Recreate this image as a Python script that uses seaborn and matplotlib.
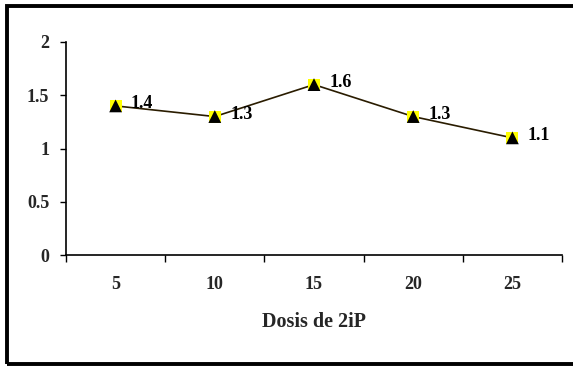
import matplotlib
matplotlib.use("Agg")
import matplotlib.pyplot as plt
import seaborn as sns
import pandas as pd
from matplotlib.patches import Rectangle

dosis = ["5", "10", "15", "20", "25"]
valores = [1.4, 1.3, 1.6, 1.3, 1.1]
yticks = [0, 0.5, 1, 1.5, 2]
ytick_labels = ["0", "0.5", "1", "1.5", "2"]

sns.set_theme(style="white")
plt.rcParams["font.family"] = ["Liberation Serif", "DejaVu Serif"]
plt.rcParams["font.weight"] = "bold"

df = pd.DataFrame({"dosis": dosis, "valor": valores})

fig = plt.figure(figsize=(5.73, 3.66), dpi=100)
ax = fig.add_axes([66 / 573, 1 - 255 / 366, (562 - 66) / 573, (255 - 42) / 366])

# connecting line
sns.lineplot(data=df, x="dosis", y="valor", ax=ax, color="#2a1c00",
             linewidth=1.2, sort=False, zorder=2)
# yellow square behind black triangle
sns.scatterplot(data=df, x="dosis", y="valor", ax=ax, marker="s", s=75,
                color="#ffff00", edgecolor="none", zorder=3)
sns.scatterplot(data=df, x="dosis", y="valor", ax=ax, marker="^", s=85,
                color="black", edgecolor="none", zorder=4)

for i, v in enumerate(valores):
    ax.annotate(f"{v:.1f}", (i, v), xytext=(11, 1.5), textcoords="offset points",
                ha="left", va="center", fontsize=13, fontweight="bold",
                color="black", zorder=5)

ax.set_xlim(-0.5, len(dosis) - 0.5)
ax.set_ylim(0, 2)
ax.set_yticks(yticks)
ax.set_yticklabels(ytick_labels, fontsize=13, fontweight="bold")
ax.set_xticks(range(len(dosis)))
ax.set_xticklabels(dosis, fontsize=13, fontweight="bold")
ax.set_xticks([i - 0.5 for i in range(len(dosis) + 1)], minor=True)

ax.tick_params(axis="y", which="major", direction="out", length=4, width=1,
               color="black", pad=8, left=True)
ax.tick_params(axis="x", which="major", length=0, pad=15, bottom=True)
ax.tick_params(axis="x", which="minor", direction="out", length=5, width=1,
               color="black", bottom=True)

for side in ["top", "right"]:
    ax.spines[side].set_visible(False)
for side in ["left", "bottom"]:
    ax.spines[side].set_color("black")
    ax.spines[side].set_linewidth(1.2)

ax.set_ylabel("")
ax.set_xlabel("Dosis de 2iP", fontsize=14.5, fontweight="bold", labelpad=14)

# outer frame
fig.patches.append(Rectangle((6.5 / 573, 1 - 364 / 366), 575 / 573, 358.5 / 366,
                             transform=fig.transFigure, fill=False,
                             edgecolor="black", linewidth=2.8, clip_on=False))

fig.savefig("out.png", dpi=100)
